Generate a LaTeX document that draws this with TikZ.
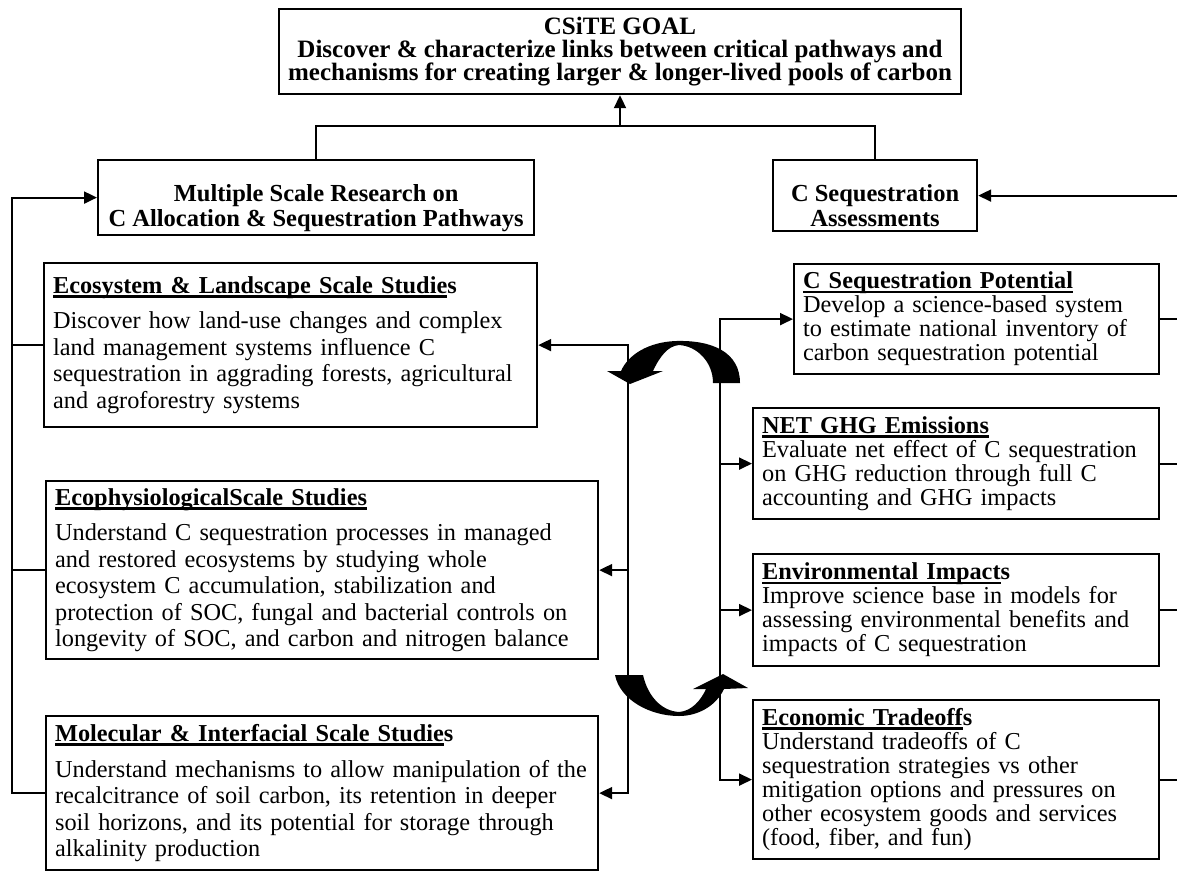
\documentclass[tikz,border=0pt]{standalone}
\usepackage{fontspec}
\setmainfont{Liberation Serif}
\usetikzlibrary{arrows.meta}

\newsavebox{\ulbox}
\newcommand{\uln}[1]{\sbox{\ulbox}{\bfseries #1}\rlap{\rule[-4.5pt]{\wd\ulbox}{2.6pt}}\usebox{\ulbox}}

\tikzset{
  goal/.style={draw, line width=2.2pt, align=center, inner xsep=9pt, minimum height=85pt, font=\fontsize{25}{23}\selectfont\bfseries},
  head/.style={draw, line width=2.2pt, align=center, anchor=north west, minimum height=71pt, font=\fontsize{24.5}{25}\selectfont\bfseries},
  lstudy/.style={draw, line width=2.2pt, anchor=north west, align=left, inner xsep=9pt, font=\fontsize{24.3}{26.5}\selectfont},
  rstudy/.style={draw, line width=2.2pt, anchor=north west, align=left, inner xsep=9pt, font=\fontsize{24.3}{24}\selectfont}
}

\begin{document}
\begin{tikzpicture}[x=1pt, y=-1pt, line width=2pt, >={Triangle[length=13pt,width=12pt]}]
\useasboundingbox (0,0) rectangle (1177,871);
% goal and the two branches
\node[goal, anchor=north] (goal) at (620,8) {CSiTE GOAL\\ Discover \& characterize links between critical pathways and\\ mechanisms for creating larger \& longer-lived pools of carbon};
\node[head, minimum width=436pt] (ms) at (97,159) {\rule{0pt}{38pt}Multiple Scale Research on\\ C Allocation \& Sequestration Pathways};
\node[head, minimum width=204pt] (ca) at (772,159) {\rule{0pt}{38pt}C Sequestration\\ Assessments};
% research scales
\node[lstudy, text width=475pt, minimum height=164pt] (eco) at (43,262) {\uln{Ecosystem \& Landscape Scale Studie}\textbf{s}\\[9pt]
  Discover how land-use changes and complex\\ land management systems influence C\\ sequestration in aggrading forests, agricultural\\ and agroforestry systems};
\node[lstudy, text width=534pt, minimum height=178pt] (phys) at (45,480) {\uln{EcophysiologicalScale Studies}\\[9pt]
  Understand C sequestration processes in managed\\ and restored ecosystems by studying whole\\ ecosystem C accumulation, stabilization and\\ protection of SOC, fungal and bacterial controls on\\ longevity of SOC, and carbon and nitrogen balance};
\node[lstudy, text width=534pt, minimum height=154pt] (mol) at (45,715) {\uln{Molecular \& Interfacial Scale Studie}\textbf{s}\\[9pt]
  Understand mechanisms to allow manipulation of the\\ recalcitrance of soil carbon, its retention in deeper\\ soil horizons, and its potential for storage through\\ alkalinity production};
% assessments
\node[rstudy, text width=347pt, minimum height=110pt] (pot) at (793,263) {\uln{C Sequestration Potential}\\
  Develop a science-based system\\ to estimate national inventory of\\ carbon sequestration potential};
\node[rstudy, text width=388pt, minimum height=111pt] (ghg) at (752,407) {\uln{NET GHG Emissions}\\
  Evaluate net effect of C sequestration\\ on GHG reduction through full C\\ accounting and GHG impacts};
\node[rstudy, text width=388pt, minimum height=112pt] (env) at (752,553) {\uln{Environmental Impact}\textbf{s}\\
  Improve science base in models for\\ assessing environmental benefits and\\ impacts of C sequestration};
\node[rstudy, text width=388pt, minimum height=159pt] (econ) at (752,699) {\uln{Economic Tradeoff}\textbf{s}\\
  Understand tradeoffs of C\\ sequestration strategies vs other\\ mitigation options and pressures on\\ other ecosystem goods and services\\ (food, fiber, and fun)};

\coordinate (jn) at (goal.south |- 0,126);
\coordinate (lb) at (12,0);
\coordinate (cl) at (628,0);
\coordinate (cr) at (720,0);
\coordinate (rb) at (1190,0);

\draw (ms.north) |- (jn) -| (ca.north);
\draw[->] (jn) -- (goal.south);

\draw[->] (mol.west) -| (lb |- ms.west) -- (ms.west);
\foreach \b in {eco,phys}
  \draw (\b.west) -- (lb |- \b.west);

\draw[<->] (eco.east) -| (cl |- mol.east) -- (mol.east);
\draw[->] (cl |- phys.east) -- (phys.east);

\draw[<->] (pot.west) -| (cr |- econ.west) -- (econ.west);
\foreach \b in {ghg,env}
  \draw[->] (cr |- \b.west) -- (\b.west);

\draw[->] (econ.east) -| (rb |- ca.east) -- (ca.east);
\foreach \b in {pot,ghg,env}
  \draw (\b.east) -- (rb |- \b.east);

% curved arrows
\fill (740,383) .. controls (740,352) and (712,340) .. (676,341) .. controls (648,342) and (628,355) .. (621,371) -- (607,371) -- (630,384) -- (663,371) -- (653,371) .. controls (660,356) and (668,346) .. (679,345) .. controls (697,346) and (713,362) .. (713,383) -- cycle;
\fill (615,675) -- (643,675) .. controls (648,697) and (662,711) .. (679,712) .. controls (692,711) and (701,700) .. (706,689) -- (693,689) -- (723,674) -- (748,688) -- (724,689) .. controls (716,706) and (698,716) .. (679,716) .. controls (650,716) and (620,700) .. (615,675) -- cycle;
\end{tikzpicture}
\end{document}
